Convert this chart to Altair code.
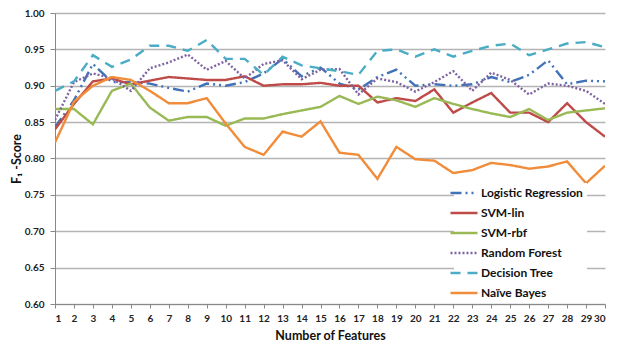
import altair as alt
import pandas as pd

features = list(range(1, 31))
series_names = ["Logistic Regression", "SVM-lin", "SVM-rbf", "Random Forest", "Decision Tree", "Naïve Bayes"]

logistic = [0.843, 0.880, 0.930, 0.905, 0.905, 0.903, 0.897, 0.892, 0.903, 0.900,
            0.905, 0.917, 0.937, 0.913, 0.925, 0.903, 0.895, 0.912, 0.922, 0.900,
            0.902, 0.900, 0.902, 0.912, 0.905, 0.915, 0.935, 0.902, 0.907, 0.906]
svm_lin = [0.840, 0.875, 0.906, 0.910, 0.902, 0.907, 0.912, 0.910, 0.908, 0.908,
           0.913, 0.900, 0.902, 0.902, 0.904, 0.900, 0.900, 0.877, 0.883, 0.879,
           0.895, 0.863, 0.877, 0.890, 0.863, 0.863, 0.850, 0.876, 0.850, 0.830]
svm_rbf = [0.868, 0.868, 0.847, 0.893, 0.903, 0.870, 0.852, 0.857, 0.857, 0.845,
           0.855, 0.855, 0.861, 0.866, 0.871, 0.886, 0.875, 0.885, 0.880, 0.871,
           0.883, 0.875, 0.868, 0.862, 0.857, 0.868, 0.853, 0.863, 0.866, 0.869]
random_forest = [0.853, 0.905, 0.917, 0.910, 0.893, 0.924, 0.932, 0.943, 0.922, 0.934,
                 0.910, 0.930, 0.935, 0.909, 0.922, 0.923, 0.888, 0.910, 0.905, 0.892,
                 0.905, 0.920, 0.893, 0.918, 0.908, 0.888, 0.903, 0.900, 0.893, 0.875]
decision_tree = [0.893, 0.906, 0.942, 0.926, 0.936, 0.955, 0.955, 0.948, 0.963, 0.937,
                 0.937, 0.915, 0.940, 0.928, 0.924, 0.920, 0.915, 0.948, 0.950, 0.940,
                 0.950, 0.940, 0.948, 0.955, 0.958, 0.942, 0.950, 0.958, 0.960, 0.953]
naive_bayes = [0.822, 0.878, 0.900, 0.912, 0.908, 0.893, 0.876, 0.876, 0.883, 0.848,
               0.816, 0.805, 0.837, 0.830, 0.851, 0.808, 0.805, 0.772, 0.816, 0.799,
               0.797, 0.780, 0.784, 0.794, 0.791, 0.786, 0.789, 0.796, 0.766, 0.790]

y_ticks = [0.60, 0.65, 0.70, 0.75, 0.80, 0.85, 0.90, 0.95, 1.00]

colors = ["#4172B8", "#BE4B48", "#98B954", "#7E62A1", "#4BACC6", "#F08C3A"]
dashes = [[11, 4, 2, 4, 2, 4], [1, 0], [1, 0], [2, 2], [10, 7], [1, 0]]

all_values = [logistic, svm_lin, svm_rbf, random_forest, decision_tree, naive_bayes]
rows = []
for k, (name, vals) in enumerate(zip(series_names, all_values)):
    for f, v in zip(features, vals):
        rows.append({"features": f, "score": v, "model": name, "order": k})
df = pd.DataFrame(rows)

FONT = "Lato"

chart = alt.Chart(df).mark_line(strokeWidth=2.4, clip=True).encode(
    x=alt.X("features:Q",
            scale=alt.Scale(domain=[1, 30], nice=False, zero=False),
            axis=alt.Axis(values=features, title="Number of Features", grid=False,
                          labelFontSize=10, labelFont=FONT, labelFontWeight="bold",
                          labelColor="#222222", tickSize=4, tickColor="#888888",
                          domainColor="#888888", labelPadding=5,
                          titleFont=FONT, titleFontSize=12.5, titleFontWeight="bold",
                          titleColor="#111111", titlePadding=6)),
    y=alt.Y("score:Q",
            scale=alt.Scale(domain=[0.60, 1.00], nice=False, zero=False),
            axis=alt.Axis(values=y_ticks, format=".2f", title="F₁ -Score",
                          grid=True, gridColor="#b4b4b4", gridWidth=1.3,
                          labelFontSize=10, labelFont=FONT, labelFontWeight="bold",
                          labelColor="#222222", tickSize=5, tickColor="#888888",
                          domainColor="#888888", labelPadding=6,
                          titleFont=FONT, titleFontSize=12.5, titleFontWeight="bold",
                          titleColor="#111111", titlePadding=1)),
    color=alt.Color("model:N",
                    scale=alt.Scale(domain=series_names, range=colors),
                    sort=series_names,
                    legend=alt.Legend(title=None, orient="none", legendX=399, legendY=170,
                                      fillColor="white", padding=4,
                                      symbolType="M-3,0H3", symbolSize=81,
                                      symbolStrokeWidth=2.4, labelFontSize=12,
                                      labelFont=FONT, labelFontWeight="bold",
                                      labelColor="#111111", labelOffset=11,
                                      rowPadding=8, labelLimit=200)),
    strokeDash=alt.StrokeDash("model:N",
                              scale=alt.Scale(domain=series_names, range=dashes),
                              sort=series_names, legend=None),
    order=alt.Order("order:Q"),
    detail="model:N",
).properties(
    width=550,
    height=291,
    autosize=alt.AutoSizeParams(type="none"),
    padding={"left": 47, "top": 5, "right": 20, "bottom": 40},
).configure_view(stroke=None)

chart.save("out.html", embed_options={"renderer": "svg", "actions": False})
